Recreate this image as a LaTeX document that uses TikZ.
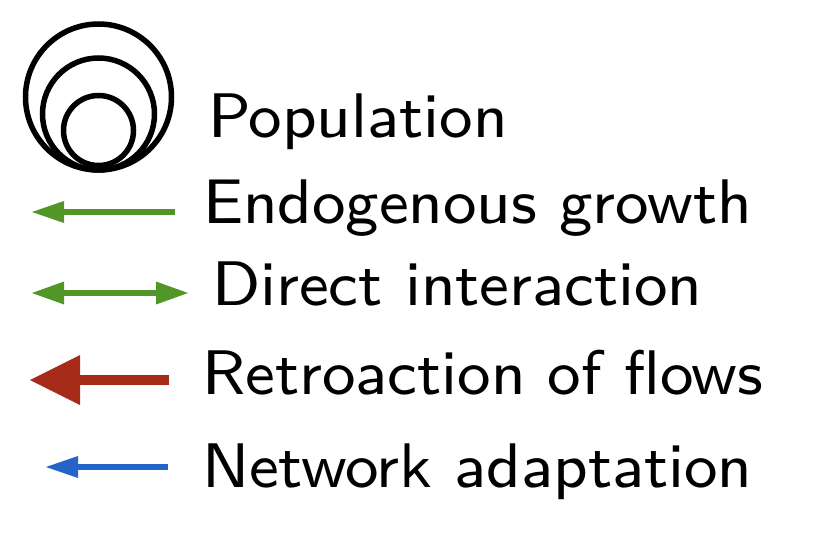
\documentclass[tikz,border=0pt]{standalone}
\usepackage{fontspec}
\newfontfamily\legendfont{lmsans8-regular.otf}
\usetikzlibrary{arrows.meta}
\definecolor{lgreen}{RGB}{82,150,40}
\definecolor{lred}{RGB}{165,42,24}
\definecolor{lblue}{RGB}{36,100,200}
\tikzset{
  ring/.style={draw=black,line width=5.5pt},
  lab/.style={anchor=base west,inner sep=0pt,outer sep=0pt,font=\legendfont\fontsize{63}{70}\selectfont},
  thinarr/.style={line width=6.5pt},
}
\begin{document}
\begin{tikzpicture}[x=1pt,y=-1pt]
\useasboundingbox (0,0) rectangle (838,538);
% population rings
\draw[ring] (98.5,97) circle[radius=73];
\draw[ring] (98.5,114) circle[radius=56];
\draw[ring] (98.5,130.5) circle[radius=35];
\coordinate (pop) at (98.5,97);
% labels
\node[lab] (tpop) at (208,137) {Population};
\node[lab] (tendo) at (203,223) {Endogenous growth};
\node[lab] (tdir) at (212,305) {Direct interaction};
\node[lab] (tret) at (202,394) {Retroaction of flows};
\node[lab] (tnet) at (202,487) {Network adaptation};
% arrows
\coordinate (e1) at (175,212);
\coordinate (e2) at (32,212);
\draw[lgreen,thinarr,-{Triangle[length=32pt,width=22pt,line width=0pt]}] (e1) -- (e2);
\coordinate (d1) at (32,293);
\coordinate (d2) at (188,293);
\draw[lgreen,thinarr,{Triangle[length=32pt,width=23pt,line width=0pt]}-{Triangle[length=32pt,width=23pt,line width=0pt]}] (d1) -- (d2);
\coordinate (r1) at (169,380);
\coordinate (r2) at (30,380);
\draw[lred,line width=9.3pt,-{Triangle[length=50pt,width=50pt,line width=0pt]}] (r1) -- (r2);
\coordinate (n1) at (168,467);
\coordinate (n2) at (46,467);
\draw[lblue,line width=6.7pt,-{Triangle[length=32pt,width=22pt,line width=0pt]}] (n1) -- (n2);
\end{tikzpicture}
\end{document}
